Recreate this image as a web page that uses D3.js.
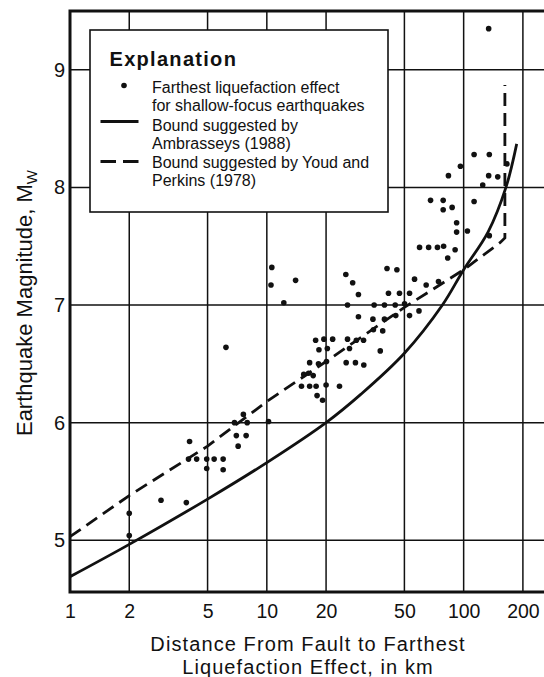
<!DOCTYPE html>
<html>
<head>
<meta charset="utf-8">
<script src="https://cdn.jsdelivr.net/npm/d3@7"></script>
<style>
  body { margin: 0; background: #fff; }
  text { font-family: "Liberation Sans", Arial, Helvetica, sans-serif; fill: #111; }
</style>
</head>
<body>
<div id="chart"></div>
<script>
// tick values
const distTicks = [1, 2, 5, 10, 20, 50, 100, 200];
const distGrid = [2, 5, 10, 20, 50, 100, 200];
const magTicks = [5, 6, 7, 8, 9];

// farthest liquefaction effect
const quakeDist = [2.0, 2.0, 2.9, 3.9, 4.05, 4.0, 4.4, 4.95, 5.4, 6.0, 4.95, 6.0, 7.0, 7.85, 7.15, 6.85, 7.95, 7.6, 10.2, 6.2,
  10.6, 10.5, 14.0, 12.2, 25.2, 27.3, 29.2, 25.7, 29.2, 40.8, 45.8, 41.5, 47.2, 53.1, 35.1, 39.6, 44.9, 50.1, 56.3, 64.5,
  74.5, 59.7, 66.4, 73.6, 79.1, 83.0, 90.5, 92.1, 92.1, 104.5,
  34.6, 39.6, 34.8, 38.8, 45.2, 53.1, 59.3, 37.7, 31.0, 25.7, 28.5, 26.3, 17.7, 19.5, 21.6, 18.4, 20.3, 25.3, 28.2, 31.1,
  16.5, 18.3, 20.1, 15.4, 16.3, 17.2, 15.0, 16.5, 17.8, 20.0, 23.4, 18.0, 19.2,
  113, 135, 96.3, 83.7, 134, 149, 166, 125, 113, 67.9, 78.7, 78.7, 87.4, 135, 134];
const quakeMag = [5.23, 5.04, 5.34, 5.32, 5.84, 5.69, 5.69, 5.69, 5.69, 5.69, 5.61, 5.60, 5.89, 5.89, 5.80, 6.0, 6.0, 6.07, 6.01, 6.64,
  7.32, 7.17, 7.21, 7.02, 7.26, 7.19, 7.09, 7.0, 6.90, 7.31, 7.30, 7.10, 7.10, 7.10, 7.0, 7.0, 7.0, 7.01, 7.22, 7.17,
  7.20, 7.49, 7.49, 7.49, 7.50, 7.40, 7.47, 7.62, 7.70, 7.63,
  6.88, 6.88, 6.79, 6.78, 6.91, 6.91, 6.95, 6.61, 6.70, 6.71, 6.70, 6.63, 6.70, 6.71, 6.71, 6.62, 6.63, 6.51, 6.51, 6.49,
  6.51, 6.50, 6.52, 6.41, 6.42, 6.40, 6.31, 6.31, 6.31, 6.32, 6.31, 6.23, 6.19,
  8.28, 8.28, 8.18, 8.10, 8.10, 8.09, 8.20, 8.02, 7.88, 7.89, 7.89, 7.81, 7.83, 7.59, 9.35];

// bound curves
const ambraseysDist = [1, 2, 5, 10, 20, 30, 50, 78, 100, 133, 164, 186];
const ambraseysMag = [4.69, 4.965, 5.35, 5.66, 6.0, 6.24, 6.59, 7.0, 7.3, 7.62, 8.0, 8.37];
const youdDist = [1, 2, 5, 10, 20, 50, 100, 153, 162, 162];
const youdMag = [5.03, 5.38, 5.8, 6.18, 6.52, 6.98, 7.3, 7.53, 7.57, 8.87];

const legendLines = [
  "Farthest liquefaction effect",
  "for shallow-focus earthquakes",
  "Bound suggested by",
  "Ambrasseys (1988)",
  "Bound suggested by Youd and",
  "Perkins (1978)",
];

const width = 544, height = 677;
const plot = { left: 70, right: 544, top: 11, bottom: 592 };
const ink = "#111";

const x = d3.scaleLog().domain([1, 256]).range([plot.left, plot.right]);
const y = d3.scaleLinear().domain([4.56, 9.5]).range([plot.bottom, plot.top]);

const svg = d3.select("#chart").append("svg")
  .attr("width", width)
  .attr("height", height);

svg.append("defs").append("clipPath").attr("id", "plotClip")
  .append("rect")
  .attr("x", plot.left).attr("y", plot.top)
  .attr("width", plot.right - plot.left).attr("height", plot.bottom - plot.top);

// grid
const grid = svg.append("g").attr("stroke", ink).attr("stroke-width", 1.5);
grid.selectAll("line.v").data(distGrid).join("line")
  .attr("class", "v")
  .attr("x1", (d) => x(d)).attr("x2", (d) => x(d))
  .attr("y1", plot.top).attr("y2", plot.bottom);
grid.selectAll("line.h").data(magTicks).join("line")
  .attr("class", "h")
  .attr("x1", plot.left).attr("x2", plot.right)
  .attr("y1", (d) => y(d)).attr("y2", (d) => y(d));

// frame: left, bottom, top
svg.append("path")
  .attr("d", `M${plot.right},${plot.top}H${plot.left}V${plot.bottom}H${plot.right}`)
  .attr("fill", "none").attr("stroke", ink).attr("stroke-width", 3);

// axes (labels only)
const xAxis = svg.append("g")
  .attr("transform", `translate(0,${plot.bottom})`)
  .call(d3.axisBottom(x).tickValues(distTicks).tickFormat(d3.format("d")).tickSize(0).tickPadding(12.5));
xAxis.select(".domain").remove();
xAxis.selectAll("text").attr("font-size", 19.5).style("fill", ink)
  .style("font-family", '"Liberation Sans", Arial, sans-serif');

const yAxis = svg.append("g")
  .attr("transform", `translate(${plot.left},0)`)
  .call(d3.axisLeft(y).tickValues(magTicks).tickFormat(d3.format("d")).tickSize(0).tickPadding(5));
yAxis.select(".domain").remove();
yAxis.selectAll("text").attr("font-size", 20).style("fill", ink)
  .style("font-family", '"Liberation Sans", Arial, sans-serif');

// curves
const line = d3.line().x((d) => x(d[0])).y((d) => y(d[1]));
const curves = svg.append("g").attr("clip-path", "url(#plotClip)")
  .attr("fill", "none").attr("stroke", ink).attr("stroke-width", 2.8);

curves.append("path")
  .datum(d3.zip(ambraseysDist, ambraseysMag))
  .attr("d", line.curve(d3.curveCatmullRom.alpha(0.5)));

curves.append("path")
  .datum(d3.zip(youdDist, youdMag))
  .attr("stroke-dasharray", "13,7")
  .attr("d", line.curve(d3.curveLinear));

// points
svg.append("g").attr("clip-path", "url(#plotClip)")
  .selectAll("circle")
  .data(d3.zip(quakeDist, quakeMag))
  .join("circle")
  .attr("cx", (d) => x(d[0]))
  .attr("cy", (d) => y(d[1]))
  .attr("r", 2.8)
  .attr("fill", ink);

// legend
const legend = svg.append("g");
legend.append("rect")
  .attr("x", 90).attr("y", 30).attr("width", 298).attr("height", 182)
  .attr("fill", "#fff").attr("stroke", ink).attr("stroke-width", 1.6);
legend.append("text")
  .attr("x", 109.5).attr("y", 65.5)
  .attr("font-size", 20).attr("font-weight", "bold")
  .attr("letter-spacing", 1.3)
  .text("Explanation");
legend.append("circle").attr("cx", 124).attr("cy", 85.5).attr("r", 2.8).attr("fill", ink);
legend.append("line")
  .attr("x1", 100.5).attr("x2", 138.5).attr("y1", 121.5).attr("y2", 121.5)
  .attr("stroke", ink).attr("stroke-width", 2.8);
legend.append("line")
  .attr("x1", 100.5).attr("x2", 138.5).attr("y1", 161.5).attr("y2", 161.5)
  .attr("stroke", ink).attr("stroke-width", 2.8)
  .attr("stroke-dasharray", "15.5,7");
const legendBaselines = [93, 111.3, 130.5, 148.8, 168, 186.3];
legend.selectAll("text.item").data(legendLines).join("text")
  .attr("class", "item")
  .attr("x", 152)
  .attr("y", (d, i) => legendBaselines[i])
  .attr("font-size", 16)
  .text((d) => d);

// axis titles
const yTitle = svg.append("text")
  .attr("transform", "translate(32,303) rotate(-90)")
  .attr("text-anchor", "middle")
  .attr("font-size", 22);
yTitle.append("tspan").text("Earthquake Magnitude, M");
yTitle.append("tspan").attr("font-size", 15).attr("dy", 5).text("W");

svg.append("text")
  .attr("x", 308).attr("y", 650.5)
  .attr("text-anchor", "middle").attr("font-size", 20)
  .attr("letter-spacing", 1.1)
  .text("Distance From Fault to Farthest");
svg.append("text")
  .attr("x", 308).attr("y", 673.5)
  .attr("text-anchor", "middle").attr("font-size", 20)
  .attr("letter-spacing", 1.1)
  .text("Liquefaction Effect, in km");
</script>
</body>
</html>
